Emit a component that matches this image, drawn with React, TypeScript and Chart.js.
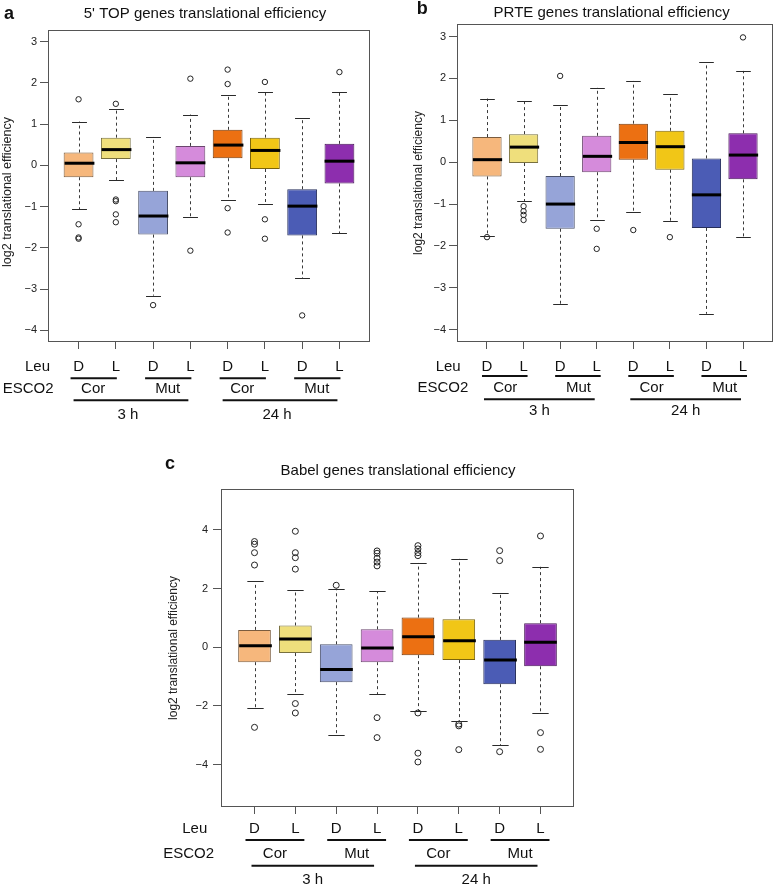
import React, { useEffect, useRef } from 'react';
import { Chart, registerables } from 'chart.js';

Chart.register(...registerables);

const FONT = '"Liberation Sans", Arial, Helvetica, sans-serif';
Chart.defaults.font.family = FONT;

// ---------- shared categories ----------
const leuLabels = ['D', 'L', 'D', 'L', 'D', 'L', 'D', 'L'];
const escoLabels = ['Cor', 'Mut', 'Cor', 'Mut'];
const timeLabels = ['3 h', '24 h'];
const boxColors = ['#F6B77C', '#EFDF7C', '#96A4D8', '#D58BDB', '#EC7012', '#F1C617', '#4B5CB5', '#8D2EAE'];
const yAxisLabel = 'log2 translational efficiency';

// ---------- panel a: 5' TOP ----------
const topHigh = [1.06, 1.37, 0.69, 1.23, 1.71, 1.77, 1.14, 1.77];
const topQ3 = [0.31, 0.67, -0.62, 0.47, 0.86, 0.67, -0.58, 0.52];
const topMedian = [0.05, 0.38, -1.23, 0.06, 0.49, 0.36, -0.99, 0.10];
const topQ1 = [-0.29, 0.15, -1.68, -0.29, 0.17, -0.09, -1.70, -0.44];
const topLow = [-1.07, -0.36, -3.16, -1.26, -0.83, -0.95, -2.74, -1.65];
const topOutliers = [
  [1.60, -1.43, -1.75, -1.78],
  [1.49, -0.83, -0.87, -1.19, -1.38],
  [-3.39],
  [2.10, -2.07],
  [2.32, 1.97, -1.04, -1.63],
  [2.02, -1.31, -1.78],
  [-3.64],
  [2.26],
];
const topTicks = [-4, -3, -2, -1, 0, 1, 2, 3];

// ---------- panel b: PRTE ----------
const prteHigh = [1.52, 1.46, 1.36, 1.78, 1.94, 1.62, 2.39, 2.18];
const prteQ3 = [0.60, 0.67, -0.33, 0.63, 0.92, 0.75, 0.09, 0.69];
const prteMedian = [0.06, 0.36, -1.00, 0.14, 0.47, 0.37, -0.78, 0.17];
const prteQ1 = [-0.34, -0.02, -1.59, -0.24, 0.06, -0.18, -1.57, -0.41];
const prteLow = [-1.76, -0.93, -3.38, -1.39, -1.20, -1.41, -3.62, -1.79];
const prteOutliers = [
  [-1.79],
  [-1.05, -1.17, -1.26, -1.38],
  [2.06],
  [-1.59, -2.07],
  [-1.62],
  [-1.79],
  [],
  [2.98],
];
const prteTicks = [-4, -3, -2, -1, 0, 1, 2, 3];

// ---------- panel c: Babel ----------
const babelHigh = [2.24, 1.96, 2.00, 1.91, 2.87, 3.01, 1.83, 2.74];
const babelQ3 = [0.59, 0.74, 0.10, 0.61, 1.01, 0.95, 0.25, 0.82];
const babelMedian = [0.05, 0.28, -0.76, -0.03, 0.36, 0.22, -0.44, 0.17];
const babelQ1 = [-0.51, -0.20, -1.19, -0.51, -0.27, -0.44, -1.26, -0.65];
const babelLow = [-2.08, -1.58, -3.00, -1.60, -2.19, -2.51, -3.34, -2.24];
const babelOutliers = [
  [3.60, 3.51, 3.22, 2.80, -2.73],
  [3.95, 3.22, 3.05, 2.66, -1.92, -2.24],
  [2.11],
  [3.28, 3.20, 3.03, 2.90, 2.77, -2.40, -3.08],
  [3.46, 3.35, 3.22, 3.12, -2.24, -3.61, -3.91],
  [-2.62, -2.68, -3.49],
  [3.29, 2.95, -3.56],
  [3.79, -2.91, -3.48],
];
const babelTicks = [-4, -2, 0, 2, 4];

// ---------- layout / style per panel ----------
type Panel = {
  key: string;
  letter: string;
  title: string;
  high: number[]; q3: number[]; med: number[]; q1: number[]; low: number[]; outliers: number[][];
  ticks: number[];
  yMin: number; yMax: number;
  box: { left: number; top: number; w: number; h: number };
  area: { l: number; t: number; r: number; b: number };
  titleX: number; titleY: number; letterX: number; letterY: number;
  yLabX: number; yLabY: number; yLabSize: number;
  tickPad: number; outR: number;
  rows: { dl: number; pair: number; esco: number; group: number; time: number };
  leuRight: number; escoRight: number;
  pairExt: [number, number]; escoOff: number; groupExt: [number, number]; timeOff: number;
};

const panels: Panel[] = [
  {
    key: 'a', letter: 'a', title: "5' TOP genes translational efficiency",
    high: topHigh, q3: topQ3, med: topMedian, q1: topQ1, low: topLow, outliers: topOutliers,
    ticks: topTicks, yMin: -4.26, yMax: 3.28,
    box: { left: 0, top: 0, w: 390, h: 425 },
    area: { l: 48, t: 30, r: 370, b: 341 },
    titleX: 205, titleY: 17.5, letterX: 4, letterY: 18.5,
    yLabX: 8, yLabY: 192, yLabSize: 12.5,
    tickPad: 3, outR: 2.7,
    rows: { dl: 26, pair: 37.3, esco: 48.3, group: 59.3, time: 74 },
    leuRight: 50, escoRight: 53.5,
    pairExt: [-8, 1], escoOff: -4, groupExt: [-5, -2], timeOff: -3,
  },
  {
    key: 'b', letter: 'b', title: 'PRTE genes translational efficiency',
    high: prteHigh, q3: prteQ3, med: prteMedian, q1: prteQ1, low: prteLow, outliers: prteOutliers,
    ticks: prteTicks, yMin: -4.27, yMax: 3.30,
    box: { left: 390, top: 0, w: 388, h: 425 },
    area: { l: 67, t: 24, r: 388, b: 341 },
    titleX: 221.7, titleY: 17, letterX: 26.7, letterY: 14,
    yLabX: 28.3, yLabY: 183, yLabSize: 12,
    tickPad: 3, outR: 2.7,
    rows: { dl: 25.7, pair: 35, esco: 47.3, group: 58.3, time: 70 },
    leuRight: 70.7, escoRight: 78.3,
    pairExt: [-5, 4], escoOff: 0, groupExt: [-3, -2], timeOff: 0,
  },
  {
    key: 'c', letter: 'c', title: 'Babel genes translational efficiency',
    high: babelHigh, q3: babelQ3, med: babelMedian, q1: babelQ1, low: babelLow, outliers: babelOutliers,
    ticks: babelTicks, yMin: -5.41, yMax: 5.39,
    box: { left: 130, top: 430, w: 470, h: 456 },
    area: { l: 91, t: 59, r: 444, b: 376 },
    titleX: 268, titleY: 45, letterX: 35, letterY: 39.3,
    yLabX: 43.3, yLabY: 218, yLabSize: 12,
    tickPad: 5, outR: 3,
    rows: { dl: 23.3, pair: 34, esco: 48.3, group: 59.7, time: 74 },
    leuRight: 77.3, escoRight: 84,
    pairExt: [-9, 9], escoOff: 0, groupExt: [-3, -3], timeOff: 0,
  },
];

function darken(hex: string, f: number): string {
  const n = parseInt(hex.slice(1), 16);
  const r = Math.round(((n >> 16) & 255) * f);
  const g = Math.round(((n >> 8) & 255) * f);
  const b = Math.round((n & 255) * f);
  return `rgb(${r},${g},${b})`;
}

function fmtTick(v: number): string {
  return v < 0 ? '\u2212' + Math.abs(v) : String(v);
}

function makeExtras(p: Panel) {
  return {
    id: 'boxExtras_' + p.key,
    afterDatasetsDraw(chart: any) {
      const ctx = chart.ctx as CanvasRenderingContext2D;
      const xs = chart.scales.x;
      const ys = chart.scales.y;
      const unit = xs.getPixelForValue(2) - xs.getPixelForValue(1);
      const halfBox = unit * 0.4;
      const halfCap = unit * 0.2;
      ctx.save();
      for (let i = 0; i < leuLabels.length; i++) {
        const cx = Math.round(xs.getPixelForValue(i + 1)) + 0.5;
        const yH = ys.getPixelForValue(p.high[i]);
        const y3 = ys.getPixelForValue(p.q3[i]);
        const y1 = ys.getPixelForValue(p.q1[i]);
        const yL = ys.getPixelForValue(p.low[i]);
        const yM = ys.getPixelForValue(p.med[i]);
        ctx.strokeStyle = '#3a3a3a';
        ctx.lineWidth = 1;
        ctx.setLineDash([3, 3]);
        ctx.beginPath();
        ctx.moveTo(cx, y3); ctx.lineTo(cx, yH);
        ctx.moveTo(cx, y1); ctx.lineTo(cx, yL);
        ctx.stroke();
        ctx.setLineDash([]);
        ctx.strokeStyle = '#2a2a2a';
        ctx.beginPath();
        ctx.moveTo(cx - halfCap, Math.round(yH) + 0.5); ctx.lineTo(cx + halfCap, Math.round(yH) + 0.5);
        ctx.moveTo(cx - halfCap, Math.round(yL) + 0.5); ctx.lineTo(cx + halfCap, Math.round(yL) + 0.5);
        ctx.stroke();
        ctx.strokeStyle = '#000';
        ctx.lineWidth = 3;
        ctx.beginPath();
        ctx.moveTo(cx - halfBox, yM); ctx.lineTo(cx + halfBox, yM);
        ctx.stroke();
      }
      ctx.restore();
    },
    afterDraw(chart: any) {
      const ctx = chart.ctx as CanvasRenderingContext2D;
      const xs = chart.scales.x;
      const a = chart.chartArea;
      const cxs = leuLabels.map((_, i) => xs.getPixelForValue(i + 1));
      ctx.save();
      // frame
      ctx.strokeStyle = '#555';
      ctx.lineWidth = 1;
      ctx.strokeRect(Math.round(a.left) + 0.5, Math.round(a.top) + 0.5, Math.round(a.right - a.left) - 1, Math.round(a.bottom - a.top));
      ctx.fillStyle = '#111';
      // title
      ctx.font = `15px ${FONT}`;
      ctx.textAlign = 'center';
      ctx.textBaseline = 'alphabetic';
      ctx.fillText(p.title, p.titleX, p.titleY);
      // letter
      ctx.font = `bold 18px ${FONT}`;
      ctx.textAlign = 'left';
      ctx.fillText(p.letter, p.letterX, p.letterY);
      // y label
      ctx.save();
      ctx.translate(p.yLabX, p.yLabY);
      ctx.rotate(-Math.PI / 2);
      ctx.font = `${p.yLabSize}px ${FONT}`;
      ctx.textAlign = 'center';
      ctx.textBaseline = 'middle';
      ctx.fillStyle = '#222';
      ctx.fillText(yAxisLabel, 0, 0);
      ctx.restore();
      // bottom annotation rows
      const B = a.bottom;
      ctx.font = `15px ${FONT}`;
      ctx.textBaseline = 'middle';
      ctx.textAlign = 'right';
      ctx.fillText('Leu', p.leuRight, B + p.rows.dl);
      ctx.fillText('ESCO2', p.escoRight, B + p.rows.esco);
      ctx.textAlign = 'center';
      leuLabels.forEach((lab, i) => ctx.fillText(lab, cxs[i], B + p.rows.dl));
      ctx.strokeStyle = '#111';
      ctx.lineWidth = 2;
      escoLabels.forEach((lab, k) => {
        const c0 = cxs[2 * k];
        const c1 = cxs[2 * k + 1];
        ctx.beginPath();
        ctx.moveTo(c0 + p.pairExt[0], B + p.rows.pair);
        ctx.lineTo(c1 + p.pairExt[1], B + p.rows.pair);
        ctx.stroke();
        ctx.fillText(lab, (c0 + c1) / 2 + p.escoOff, B + p.rows.esco);
      });
      timeLabels.forEach((lab, g) => {
        const c0 = cxs[4 * g];
        const c1 = cxs[4 * g + 3];
        const l = c0 + p.groupExt[0];
        const r = c1 + p.groupExt[1];
        ctx.beginPath();
        ctx.moveTo(l, B + p.rows.group);
        ctx.lineTo(r, B + p.rows.group);
        ctx.stroke();
        ctx.fillText(lab, (l + r) / 2 + p.timeOff, B + p.rows.time);
      });
      ctx.restore();
    },
  };
}

function BoxPanel({ p }: { p: Panel }) {
  const ref = useRef<HTMLCanvasElement | null>(null);
  useEffect(() => {
    const canvas = ref.current;
    if (!canvas) return;
    const boxData = p.q1.map((q, i) => ({ x: i + 1, y: [q, p.q3[i]] }));
    const outlierData: { x: number; y: number }[] = [];
    p.outliers.forEach((arr, i) => arr.forEach((v) => outlierData.push({ x: i + 1, y: v })));
    const chart = new Chart(canvas, {
      type: 'bar',
      data: {
        datasets: [
          {
            type: 'bar',
            data: boxData as any,
            backgroundColor: boxColors,
            borderColor: boxColors.map((c) => darken(c, 0.5)),
            borderWidth: 1,
            borderSkipped: false,
            barPercentage: 0.8,
            categoryPercentage: 1,
            order: 2,
          } as any,
          {
            type: 'scatter',
            data: outlierData as any,
            pointStyle: 'circle',
            pointRadius: p.outR,
            pointBackgroundColor: 'rgba(0,0,0,0)',
            pointBorderColor: '#222',
            pointBorderWidth: 1,
            showLine: false,
            order: 1,
          } as any,
        ],
      },
      options: {
        responsive: false,
        animation: false,
        devicePixelRatio: 1,
        layout: { padding: { left: 0, top: p.area.t, right: p.box.w - p.area.r, bottom: 0 } },
        plugins: { legend: { display: false }, tooltip: { enabled: false }, title: { display: false } },
        scales: {
          x: {
            type: 'linear',
            min: 0.18,
            max: 8.82,
            offset: false,
            border: { display: false },
            grid: { display: true, drawOnChartArea: false, drawTicks: true, tickLength: 8, color: '#555', offset: false },
            ticks: { display: false },
            afterBuildTicks: (s: any) => { s.ticks = leuLabels.map((_, i) => ({ value: i + 1 })); },
            afterFit: (s: any) => { s.height = p.box.h - p.area.b; },
          },
          y: {
            type: 'linear',
            min: p.yMin,
            max: p.yMax,
            border: { display: false },
            grid: { display: true, drawOnChartArea: false, drawTicks: true, tickLength: 8, color: '#555' },
            ticks: { font: { size: 11, family: FONT }, color: '#222', padding: p.tickPad, callback: (v: any) => fmtTick(Number(v)) },
            afterBuildTicks: (s: any) => { s.ticks = p.ticks.map((v) => ({ value: v })); },
            afterFit: (s: any) => { s.width = p.area.l; },
          },
        },
      } as any,
      plugins: [makeExtras(p)],
    });
    return () => chart.destroy();
  }, [p]);
  return (
    <canvas
      ref={ref}
      width={p.box.w}
      height={p.box.h}
      style={{ position: 'absolute', left: p.box.left, top: p.box.top, width: p.box.w, height: p.box.h }}
    />
  );
}

export default function App() {
  useEffect(() => {
    document.body.style.margin = '0';
  }, []);
  return (
    <div style={{ position: 'absolute', left: 0, top: 0, width: 778, height: 886, background: '#fff', overflow: 'hidden' }}>
      {panels.map((p) => (
        <BoxPanel key={p.key} p={p} />
      ))}
    </div>
  );
}
